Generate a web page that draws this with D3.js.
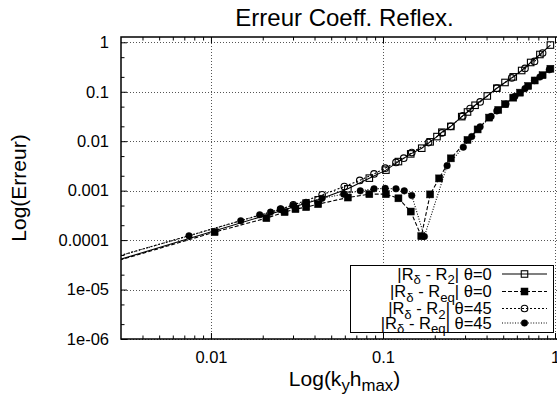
<!DOCTYPE html>
<html><head><meta charset="utf-8">
<script src="https://cdn.jsdelivr.net/npm/d3@7"></script>
<style>
body{margin:0;background:#fff}
svg{display:block}
text{font-family:"Liberation Sans",Arial,Helvetica,sans-serif;fill:#000}
</style>
</head><body>
<svg id="chart" width="557" height="401"></svg>
<script>
// ---------- data ----------
const title = "Erreur Coeff. Reflex.";
const xTickValues = [0.01, 0.1, 1];
const xTickLabels = ["0.01", "0.1", "1"];
const yTickValues = [1, 0.1, 0.01, 0.001, 0.0001, 1e-5, 1e-6];
const yTickLabels = ["1", "0.1", "0.01", "0.001", "0.0001", "1e-05", "1e-06"];
const seriesNames = [
  "|R_{δ} - R_{2}| θ=0",
  "|R_{δ} - R_{eq}| θ=0",
  "|R_{δ} - R_{2}| θ=45",
  "|R_{δ} - R_{eq}| θ=45"
];
// |Rδ - R2| θ=0
const xA = [0.001, 0.0357, 0.042, 0.0625, 0.0833, 0.104, 0.123, 0.145, 0.168, 0.188, 0.206, 0.22, 0.248, 0.287, 0.31, 0.343, 0.404, 0.459, 0.512, 0.572, 0.64, 0.722, 0.817, 0.94];
const yA = [1.30e-5, 5.58e-4, 6.52e-4, 1.09e-3, 1.79e-3, 2.6e-3, 3.87e-3, 5.54e-3, 7.22e-3, 9.7e-3, 1.24e-2, 1.52e-2, 1.99e-2, 3.14e-2, 3.9e-2, 5.33e-2, 8.22e-2, 0.118, 0.154, 0.2, 0.269, 0.391, 0.567, 0.88];
// |Rδ - Req| θ=0
const xB = [0.001, 0.0105, 0.021, 0.0268, 0.031, 0.0358, 0.042, 0.0625, 0.0833, 0.104, 0.123, 0.145, 0.167, 0.188, 0.212, 0.248, 0.31, 0.355, 0.414, 0.468, 0.512, 0.572, 0.626, 0.699, 0.762, 0.847, 0.94];
const yB = [1.30e-5, 1.45e-4, 2.78e-4, 3.68e-4, 4.23e-4, 4.64e-4, 5.33e-4, 7.26e-4, 8.49e-4, 8.49e-4, 7.0e-4, 3.78e-4, 1.2e-4, 8.4e-4, 1.77e-3, 4.5e-3, 1.06e-2, 1.73e-2, 3.0e-2, 4.29e-2, 5.59e-2, 7.6e-2, 9.59e-2, 0.131, 0.169, 0.216, 0.292];
// |Rδ - R2| θ=45
const xC = [0.001, 0.0254, 0.0301, 0.0443, 0.0596, 0.0733, 0.0887, 0.103, 0.119, 0.132, 0.147, 0.184, 0.22, 0.248, 0.291, 0.321, 0.367, 0.459, 0.56, 0.669, 0.76, 0.847];
const yC = [1.63e-5, 4.23e-4, 5.16e-4, 8.22e-4, 1.21e-3, 1.61e-3, 2.18e-3, 2.85e-3, 3.73e-3, 4.54e-3, 5.89e-3, 9.37e-3, 1.47e-2, 2.0e-2, 3.25e-2, 4.56e-2, 6.22e-2, 0.118, 0.19, 0.296, 0.41, 0.608];
// |Rδ - Req| θ=45
const xD = [0.001, 0.00745, 0.0149, 0.0192, 0.0222, 0.0254, 0.0301, 0.0357, 0.0443, 0.0591, 0.0738, 0.0887, 0.103, 0.119, 0.133, 0.147, 0.174, 0.236, 0.293, 0.328, 0.367, 0.425, 0.459, 0.519, 0.585, 0.669, 0.76, 0.817, 0.926];
const yD = [1.63e-5, 1.22e-4, 2.46e-4, 3.25e-4, 3.68e-4, 4.23e-4, 5.05e-4, 5.8e-4, 6.99e-4, 8.49e-4, 9.91e-4, 1.09e-3, 1.11e-3, 1.09e-3, 9.91e-4, 7.96e-4, 1.18e-4, 3.2e-3, 7.57e-3, 1.24e-2, 1.95e-2, 3.17e-2, 4.1e-2, 5.67e-2, 8.07e-2, 0.1155, 0.168, 0.199, 0.278];

// ---------- layout / styles ----------
const FONT = '"Liberation Sans",Arial,Helvetica,sans-serif';
const L = 121, R = 568, T = 37, B = 339;
const styles = [
  {dash: null, marker: "square", filled: false},
  {dash: "4,2", marker: "square", filled: true},
  {dash: "2,2", marker: "circle", filled: false},
  {dash: "1,1.6", marker: "circle", filled: true}
];
const series = [[xA, yA], [xB, yB], [xC, yC], [xD, yD]].map((s, i) => ({
  name: seriesNames[i],
  pts: s[0].map((x, j) => ({x, y: s[1][j]})),
  style: styles[i]
}));

const svg = d3.select("#chart");
const x = d3.scaleLog().domain([0.003, 1.19]).range([L, R]);
const y = d3.scaleLog().domain([1e-6, 1.28]).range([B, T]);

// minor tick positions
const xMinor = [];
for (let e = -3; e <= 0; e++) for (let m = 2; m <= 9; m++) { const v = m * Math.pow(10, e); if (v > 0.003 && v < 1.19) xMinor.push(v); }
const yMinor = [];
for (let e = -6; e <= 0; e++) for (const m of [2, 5]) { const v = m * Math.pow(10, e); if (v > 1e-6 && v < 1.28) yMinor.push(v); }

// grid
const grid = svg.append("g").attr("stroke", "#555").attr("stroke-width", 1).attr("stroke-dasharray", "1,2");
xTickValues.forEach(v => grid.append("line").attr("x1", Math.round(x(v)) + 0.5).attr("x2", Math.round(x(v)) + 0.5).attr("y1", T).attr("y2", B));
yTickValues.forEach(v => grid.append("line").attr("y1", Math.round(y(v)) + 0.5).attr("y2", Math.round(y(v)) + 0.5).attr("x1", L).attr("x2", R));

// axes (ticks inward, mirrored)
function axisGroup(axis, tx, ty) {
  const g = svg.append("g").attr("transform", `translate(${tx},${ty})`).call(axis);
  g.select(".domain").remove();
  g.attr("font-family", FONT).attr("font-size", 16.5);
  g.selectAll(".tick line").attr("stroke", "#000").attr("stroke-width", 1);
  g.selectAll(".tick text").attr("fill", "#000");
  return g;
}
axisGroup(d3.axisBottom(x).tickValues(xTickValues).tickFormat((d, i) => xTickLabels[i]).tickSizeInner(-6).tickSizeOuter(0).tickPadding(12), 0, B);
axisGroup(d3.axisLeft(y).tickValues(yTickValues).tickFormat((d, i) => yTickLabels[i]).tickSizeInner(-6).tickSizeOuter(0).tickPadding(12), L, 0);
const noText = g => g.selectAll(".tick text").remove();
noText(axisGroup(d3.axisTop(x).tickValues(xTickValues).tickSizeInner(-6).tickSizeOuter(0), 0, T));
noText(axisGroup(d3.axisRight(y).tickValues(yTickValues).tickSizeInner(-6).tickSizeOuter(0), R, 0));
noText(axisGroup(d3.axisBottom(x).tickValues(xMinor).tickSizeInner(-3.5).tickSizeOuter(0), 0, B));
noText(axisGroup(d3.axisTop(x).tickValues(xMinor).tickSizeInner(-3.5).tickSizeOuter(0), 0, T));
noText(axisGroup(d3.axisLeft(y).tickValues(yMinor).tickSizeInner(-3.5).tickSizeOuter(0), L, 0));
noText(axisGroup(d3.axisRight(y).tickValues(yMinor).tickSizeInner(-3.5).tickSizeOuter(0), R, 0));

// frame
svg.append("rect").attr("x", L).attr("y", T).attr("width", R - L).attr("height", B - T)
  .attr("fill", "none").attr("stroke", "#000").attr("stroke-width", 1.5);

// clip
svg.append("clipPath").attr("id", "clip").append("rect").attr("x", L).attr("y", T).attr("width", R - L).attr("height", B - T);
const plot = svg.append("g").attr("clip-path", "url(#clip)");

function drawMarker(g, cx, cy, st) {
  if (st.marker === "square") {
    const s = st.filled ? 7 : 6.5;
    g.append("rect").attr("x", cx - s / 2).attr("y", cy - s / 2).attr("width", s).attr("height", s)
      .attr("fill", st.filled ? "#000" : "none").attr("stroke", "#000").attr("stroke-width", st.filled ? 0.5 : 1.1);
  } else {
    g.append("circle").attr("cx", cx).attr("cy", cy).attr("r", 3.3)
      .attr("fill", st.filled ? "#000" : "none").attr("stroke", "#000").attr("stroke-width", st.filled ? 0.5 : 1.1);
  }
}

const line = d3.line().x(d => x(d.x)).y(d => y(d.y));
series.forEach(s => {
  const g = plot.append("g");
  g.append("path").attr("d", line(s.pts)).attr("fill", "none").attr("stroke", "#000")
    .attr("stroke-width", 1.1).attr("stroke-dasharray", s.style.dash);
  s.pts.forEach(p => drawMarker(g, x(p.x), y(p.y), s.style));
});

// rich text with subscripts: "_{...}"
function richText(sel, str, fs, sub) {
  const parts = str.split(/(_\{[^}]*\})/).filter(p => p.length);
  let shift = 0;
  parts.forEach(p => {
    const isSub = p.startsWith("_{");
    const target = isSub ? sub : 0;
    sel.append("tspan").attr("font-size", isSub ? fs * 0.8 : fs).attr("dy", target - shift)
      .text(isSub ? p.slice(2, -1) : p);
    shift = target;
  });
}

// legend
const legRows = [274, 291.5, 308.5, 323];
const leg = svg.append("g");
leg.append("rect").attr("x", 350.5).attr("y", 265.5).attr("width", 203).attr("height", 67)
  .attr("fill", "#fff").attr("stroke", "#000").attr("stroke-width", 1);
series.forEach((s, i) => {
  const yy = legRows[i];
  const t = leg.append("text").attr("x", 491.7).attr("y", yy + 5.8).attr("text-anchor", "end")
    .attr("font-family", FONT).attr("font-size", 16.5);
  richText(t, s.name, 16.5, 4.5);
  leg.append("line").attr("x1", 502).attr("x2", 547).attr("y1", yy).attr("y2", yy)
    .attr("stroke", "#000").attr("stroke-width", 1.1).attr("stroke-dasharray", s.style.dash);
  drawMarker(leg, 524.5, yy, s.style);
});

// title & axis labels
svg.append("text").attr("x", (L + R) / 2).attr("y", 26).attr("text-anchor", "middle")
  .attr("font-family", FONT).attr("font-size", 24).text(title);
const xl = svg.append("text").attr("x", (L + R) / 2).attr("y", 386).attr("text-anchor", "middle")
  .attr("font-family", FONT).attr("font-size", 21);
richText(xl, "Log(k_{y}h_{max})", 21, 5);
svg.append("text").attr("transform", `translate(26,${(T + B) / 2}) rotate(-90)`).attr("text-anchor", "middle")
  .attr("font-family", FONT).attr("font-size", 21).text("Log(Erreur)");
</script>
</body></html>
